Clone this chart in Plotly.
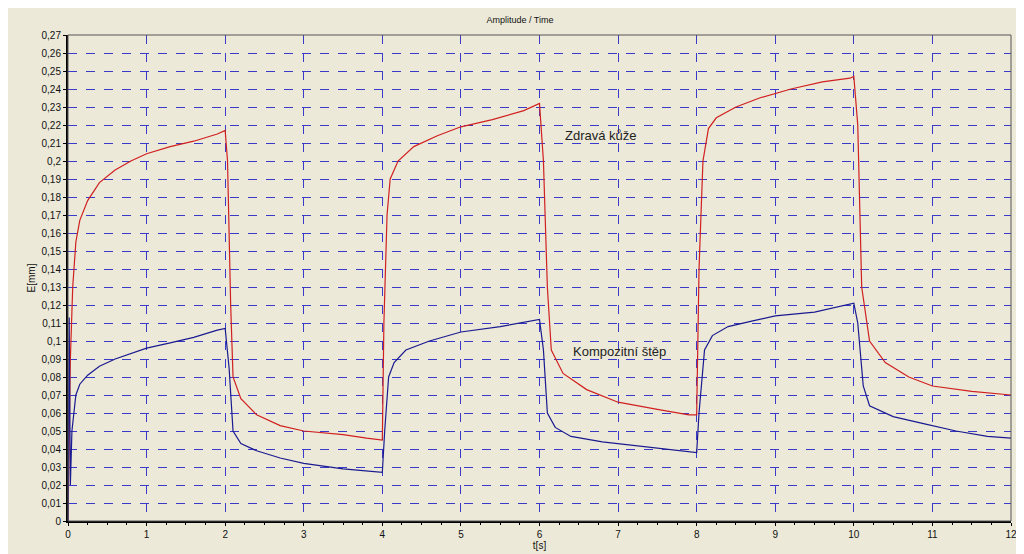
import plotly.graph_objects as go

# Zdravá kůže (red)
t_red = [0, 0.03, 0.06, 0.1, 0.15, 0.25, 0.4, 0.6, 0.8, 1.0, 1.3, 1.6, 1.9, 2.0, 2.03, 2.07, 2.1, 2.2, 2.4, 2.7, 3.0, 3.5, 3.8, 4.0,
         4.02, 4.06, 4.1, 4.2, 4.4, 4.7, 5.0, 5.4, 5.8, 6.0, 6.05, 6.1, 6.15, 6.3, 6.6, 7.0, 7.5, 7.9, 8.0,
         8.03, 8.08, 8.15, 8.25, 8.5, 8.8, 9.2, 9.6, 9.95, 10.0, 10.05, 10.1, 10.2, 10.4, 10.7, 11.0, 11.5, 12.0]
e_red = [0, 0.09, 0.13, 0.155, 0.167, 0.178, 0.188, 0.195, 0.2, 0.204, 0.208, 0.211, 0.215, 0.217, 0.2, 0.12, 0.08, 0.068, 0.059, 0.053, 0.05, 0.048, 0.046, 0.045,
         0.11, 0.17, 0.19, 0.2, 0.208, 0.214, 0.219, 0.223, 0.228, 0.232, 0.2, 0.13, 0.095, 0.082, 0.073, 0.066, 0.062, 0.059, 0.059,
         0.14, 0.2, 0.218, 0.224, 0.23, 0.235, 0.24, 0.244, 0.246, 0.247, 0.22, 0.13, 0.1, 0.088, 0.08, 0.075, 0.072, 0.07]

# Kompozitní štěp (blue)
t_blue = [0, 0.015, 0.03, 0.05, 0.1, 0.15, 0.25, 0.4, 0.6, 0.8, 1.0, 1.3, 1.6, 1.9, 2.0, 2.05, 2.1, 2.2, 2.4, 2.7, 3.0, 3.5, 3.8, 4.0,
          4.03, 4.08, 4.15, 4.3, 4.6, 5.0, 5.5, 5.9, 6.0, 6.05, 6.1, 6.2, 6.4, 6.8, 7.2, 7.6, 8.0,
          8.03, 8.1, 8.2, 8.4, 8.7, 9.0, 9.5, 9.9, 10.0, 10.05, 10.12, 10.2, 10.5, 10.9, 11.3, 11.7, 12.0]
e_blue = [0, 0.113, 0.02, 0.05, 0.07, 0.076, 0.081, 0.086, 0.09, 0.093, 0.096, 0.099, 0.102, 0.106, 0.107, 0.085, 0.05, 0.043, 0.039, 0.035, 0.032, 0.029, 0.028, 0.027,
          0.05, 0.08, 0.088, 0.095, 0.1, 0.105, 0.108, 0.111, 0.112, 0.095, 0.06, 0.052, 0.047, 0.044, 0.042, 0.04, 0.038,
          0.06, 0.095, 0.103, 0.108, 0.111, 0.114, 0.116, 0.12, 0.121, 0.11, 0.075, 0.064, 0.058, 0.054, 0.05, 0.047, 0.046]

bg = "#ECE9D8"
grid = "#3A3AC8"

fig = go.Figure()
fig.add_trace(go.Scatter(x=t_red, y=e_red, mode="lines", line=dict(color="#D02020", width=1.2), showlegend=False))
fig.add_trace(go.Scatter(x=t_blue, y=e_blue, mode="lines", line=dict(color="#1A1A90", width=1.2), showlegend=False))

fig.add_annotation(x=6.3, y=0.214, text="Zdravá kůže", showarrow=False, xanchor="left",
                   font=dict(size=13, color="#222"))
fig.add_annotation(x=6.4, y=0.094, text="Kompozitní štěp", showarrow=False, xanchor="left",
                   font=dict(size=13, color="#222"))

fig.update_layout(
    width=1024, height=554,
    paper_bgcolor=bg, plot_bgcolor=bg,
    margin=dict(l=60, r=21, t=27, b=41, autoexpand=False),
    separators=",.",
    font=dict(family="Liberation Sans, Arial", size=10, color="#111"),
    title=dict(text="Amplitude / Time", x=0.5, y=0.985, yanchor="top", font=dict(size=9)),
)
fig.update_xaxes(range=[0, 12], dtick=1, showgrid=True, gridcolor=grid, griddash="dash", gridwidth=1,
                 showline=True, linecolor="black", linewidth=2, mirror=False, zeroline=False, automargin=False,
                 ticks="outside", ticklen=3, tickcolor="black",
                 minor=dict(dtick=0.25, ticks="outside", ticklen=2, tickcolor="black", showgrid=False),
                 title=dict(text="t[s]", standoff=2, font=dict(size=10)))
fig.update_yaxes(range=[0, 0.27], dtick=0.01, showgrid=True, gridcolor=grid, griddash="dash", gridwidth=1,
                 showline=True, linecolor="black", linewidth=2, zeroline=False, automargin=False,
                 ticks="outside", ticklen=3, tickcolor="black",
                 title=dict(text="E[mm]", standoff=4, font=dict(size=10)))
# thin frame on top/right
fig.add_shape(type="rect", xref="paper", yref="paper", x0=0, y0=0, x1=1, y1=1,
              line=dict(color="#555", width=1))

fig.write_html("out.html")
